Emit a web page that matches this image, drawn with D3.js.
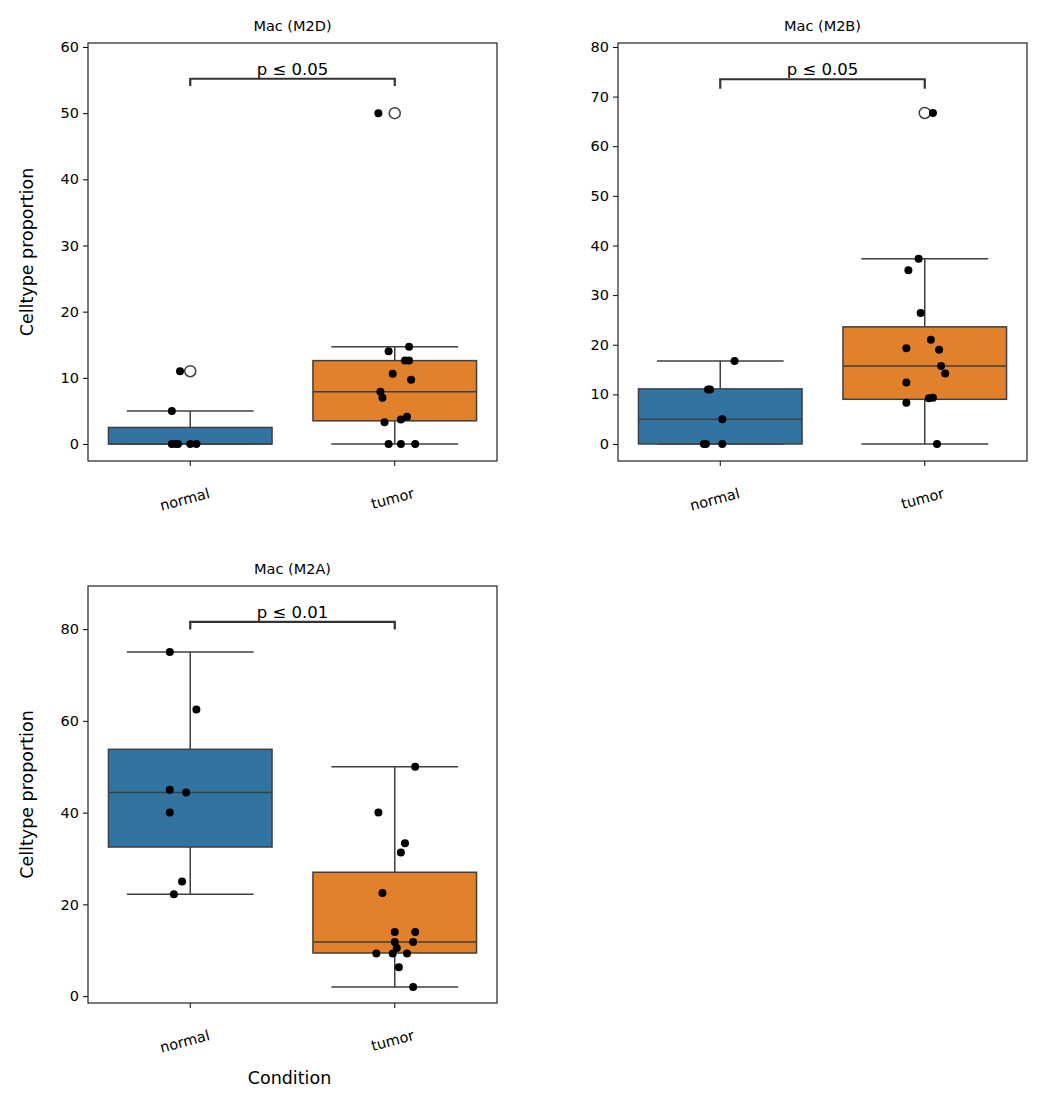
<!DOCTYPE html>
<html><head><meta charset="utf-8">
<script src="https://cdn.jsdelivr.net/npm/d3@7"></script>
<style>body{margin:0;background:#fff}text{font-family:"DejaVu Sans",sans-serif;fill:#000}</style>
</head><body><svg id="c" width="1043" height="1103"></svg>
<script>
// ---- data ----
const categories = ['normal', 'tumor'];
const titles = ['Mac (M2D)', 'Mac (M2B)', 'Mac (M2A)'];
const pLabels = ['p ≤ 0.05', 'p ≤ 0.05', 'p ≤ 0.01'];
const yTicks = [[0,10,20,30,40,50,60],[0,10,20,30,40,50,60,70,80],[0,20,40,60,80]];
const yDomains = [[-2.57,60.6],[-3.43,80.8],[-1.5,89.4]];
const bracketY = [[55.2,54.1],[73.5,71.6],[81.6,79.9]];
// box stats [q1, median, q3, whiskerLow, whiskerHigh]
const boxStats = [
  [[0,0,2.5,0,5],[3.5,7.9,12.6,0,14.7]],
  [[0,5,11.1,0,16.7],[9,15.7,23.6,0,37.3]],
  [[32.5,44.4,53.8,22.2,75],[9.4,11.8,27,2,50]]
];
const outliers = [[[11],[50]],[[],[66.7]],[[],[]]];
// strip points: [value, jitter in band steps]
const points = [
  [[[0,-0.09],[0,-0.07],[0,-0.06],[0,0],[0,0.03],[5,-0.09],[11,-0.05]],
   [[50,-0.08],[14,-0.03],[14.7,0.07],[12.6,0.05],[12.6,0.07],[10.6,-0.01],[9.7,0.08],[7.9,-0.07],[7,-0.06],[3.3,-0.05],[3.7,0.03],[4.1,0.06],[0,-0.03],[0,0.03],[0,0.1]]],
  [[[16.7,0.07],[11,-0.06],[11,-0.05],[5,0.01],[0,-0.08],[0,-0.07],[0,0.01]],
   [[66.7,0.04],[37.3,-0.03],[35,-0.08],[26.4,-0.02],[21,0.03],[19.3,-0.09],[19,0.07],[15.7,0.08],[14.2,0.1],[12.4,-0.09],[9.2,0.02],[9.3,0.04],[8.3,-0.09],[0,0.06]]],
  [[[75,-0.1],[62.5,0.03],[45,-0.1],[44.4,-0.02],[40,-0.1],[25,-0.04],[22.2,-0.08]],
   [[50,0.1],[40,-0.08],[33.3,0.05],[31.3,0.03],[22.5,-0.06],[14,0],[14,0.1],[11.8,0],[11.8,0.09],[10.5,0.01],[9.3,-0.09],[9.3,-0.01],[9.3,0.06],[6.3,0.02],[2,0.09]]]
];
const colors = ['#3274a1', '#e1812c'];
const edge = '#3f3f3f';

// ---- layout ----
const panels = [{x:88,y:43},{x:618,y:43},{x:88,y:586}];
const pw = 409, ph = [418,418,417];
const svg = d3.select('#c');

panels.forEach((p, i) => {
  const g = svg.append('g').attr('transform', `translate(${p.x},${p.y})`);
  const h = ph[i];
  const x = d3.scaleBand().domain(categories).range([0, pw]).paddingInner(0.2).paddingOuter(0.1);
  const step = x.step();
  const xc = c => x(c) + x.bandwidth() / 2;
  const y = d3.scaleLinear().domain(yDomains[i]).range([h, 0]);

  // boxes
  categories.forEach((c, k) => {
    const [q1, md, q3, lo, hi] = boxStats[i][k];
    const cx = xc(c), bw = x.bandwidth(), cap = bw / 4 * 1.55;
    g.append('line').attr('x1', cx).attr('x2', cx).attr('y1', y(lo)).attr('y2', y(q1)).attr('stroke', edge).attr('stroke-width', 1.5);
    g.append('line').attr('x1', cx).attr('x2', cx).attr('y1', y(q3)).attr('y2', y(hi)).attr('stroke', edge).attr('stroke-width', 1.5);
    [lo, hi].forEach(v => g.append('line').attr('x1', cx - cap).attr('x2', cx + cap).attr('y1', y(v)).attr('y2', y(v)).attr('stroke', edge).attr('stroke-width', 1.5));
    g.append('rect').attr('x', x(c)).attr('width', bw).attr('y', y(q3)).attr('height', y(q1) - y(q3))
      .attr('fill', colors[k]).attr('stroke', edge).attr('stroke-width', 1.5);
    g.append('line').attr('x1', x(c)).attr('x2', x(c) + bw).attr('y1', y(md)).attr('y2', y(md)).attr('stroke', edge).attr('stroke-width', 1.5);
    outliers[i][k].forEach(v => g.append('circle').attr('cx', cx).attr('cy', y(v)).attr('r', 5.5)
      .attr('fill', 'none').attr('stroke', edge).attr('stroke-width', 1.5));
    points[i][k].forEach(([v, j]) => g.append('circle').attr('cx', cx + j * step).attr('cy', y(v)).attr('r', 4).attr('fill', '#000'));
  });

  // bracket
  const [by, bl] = bracketY[i];
  g.append('path').attr('d', `M${xc('normal')},${y(bl)}V${y(by)}H${xc('tumor')}V${y(bl)}`)
    .attr('fill', 'none').attr('stroke', '#333').attr('stroke-width', 2.2);
  g.append('text').attr('x', (xc('normal') + xc('tumor')) / 2).attr('y', y(by) - 4)
    .attr('text-anchor', 'middle').attr('font-size', 16.5).text(pLabels[i]);

  // axes
  g.append('g').call(d3.axisLeft(y).tickValues(yTicks[i]).tickSize(5).tickPadding(4))
    .call(a => { a.select('.domain').remove(); a.selectAll('text').attr('font-size', 14.5); a.selectAll('line').attr('stroke', '#000'); });
  const xa = g.append('g').attr('transform', `translate(0,${h})`)
    .call(d3.axisBottom(x).tickSize(5).tickPadding(4))
    .call(a => { a.select('.domain').remove(); a.selectAll('line').attr('stroke', '#000'); });
  xa.selectAll('text').attr('font-size', 14.5).attr('text-anchor', 'end').attr('dy', null)
    .attr('transform', 'translate(18,28) rotate(-15)');
  g.append('rect').attr('width', pw).attr('height', h).attr('fill', 'none').attr('stroke', '#222').attr('stroke-width', 1.2);

  g.append('text').attr('x', pw / 2).attr('y', -12).attr('text-anchor', 'middle').attr('font-size', 14.5).text(titles[i]);
  if (i !== 1) g.append('text').attr('transform', `translate(-55,${h / 2}) rotate(-90)`).attr('text-anchor', 'middle')
    .attr('font-size', 17.5).text('Celltype proportion');
  if (i === 2) g.append('text').attr('x', pw / 2 - 3).attr('y', h + 81).attr('text-anchor', 'middle').attr('font-size', 17.5).text('Condition');
});
</script></body></html>
